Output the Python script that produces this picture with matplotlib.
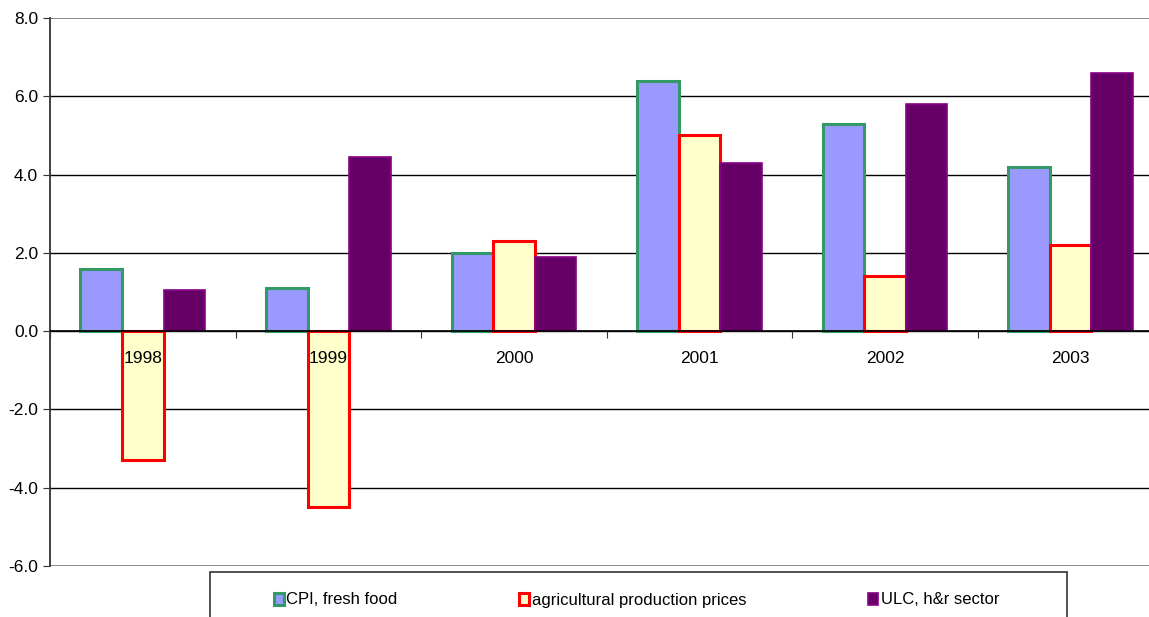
import numpy as np
import matplotlib
matplotlib.use('Agg')
import matplotlib.pyplot as plt
from matplotlib.patches import Rectangle

plt.rcParams['font.family'] = ['Liberation Sans', 'DejaVu Sans']

years = ['1998', '1999', '2000', '2001', '2002', '2003']
cpi_fresh = [1.6, 1.1, 2.0, 6.4, 5.3, 4.2]
agri_prices = [-3.3, -4.5, 2.3, 5.0, 1.4, 2.2]
ulc_hr = [1.05, 4.45, 1.9, 4.3, 5.8, 6.6]

fig = plt.figure(figsize=(11.49, 6.17), dpi=100)
ax = fig.add_axes([0.0435, 0.0827, 0.969, 0.888])

x = np.arange(len(years))
w = 0.224
ax.bar(x - w, cpi_fresh, w, color='#9999FF', edgecolor='#339966', lw=2.2, zorder=3,
       label='CPI, fresh food')
ax.bar(x, agri_prices, w, color='#FFFFCC', edgecolor='#FF0000', lw=2.2, zorder=3,
       label='agricultural production prices')
ax.bar(x + w, ulc_hr, w, color='#660066', edgecolor='#880088', lw=1.2, zorder=3,
       label='ULC, h&r sector')

ax.set_ylim(-6, 8)
ax.set_xlim(-0.5, len(years) - 0.5)
ax.set_yticks(np.arange(-6, 8.1, 2))
ax.set_yticklabels(['%.1f' % v for v in np.arange(-6, 8.1, 2)], fontsize=12.5)
for v in np.arange(-4, 8, 2):
    ax.axhline(v, color='black', lw=1, zorder=1)
ax.axhline(0, color='black', lw=1.2, zorder=4)

# category separators on the zero line, year labels just under it
ax.set_xticks(np.arange(-0.5, len(years), 1))
ax.set_xticklabels([])
ax.tick_params(axis='x', length=5, direction='out', color='#333333')
ax.spines['bottom'].set_position(('data', 0))
ax.spines['bottom'].set_visible(False)
for i, yr in enumerate(years):
    ax.text(i, -0.7, yr, ha='center', va='center', fontsize=12.5, zorder=5)
ax.axhline(-6, color='#777777', lw=1.2, zorder=1)
ax.axhline(8, color='#777777', lw=1.2, zorder=1)
for s in ['top', 'right']:
    ax.spines[s].set_visible(False)
ax.spines['left'].set_color('#333333')
ax.spines['left'].set_linewidth(1.3)
ax.tick_params(axis='y', length=5, color='#333333')

fig.patches.append(Rectangle((210 / 1149, -0.05), 857 / 1149, 1 - 572 / 617 + 0.05,
                             transform=fig.transFigure, fill=False,
                             edgecolor='#333333', lw=1.2))
fig.legend(loc='center left', bbox_to_anchor=(274 / 1149, 1 - 600 / 617), ncol=3,
           frameon=False, fontsize=12, handlelength=0.6, handleheight=0.7,
           handletextpad=0.15, columnspacing=7.3, borderaxespad=0, borderpad=0)

fig.savefig('out.png', dpi=100)
